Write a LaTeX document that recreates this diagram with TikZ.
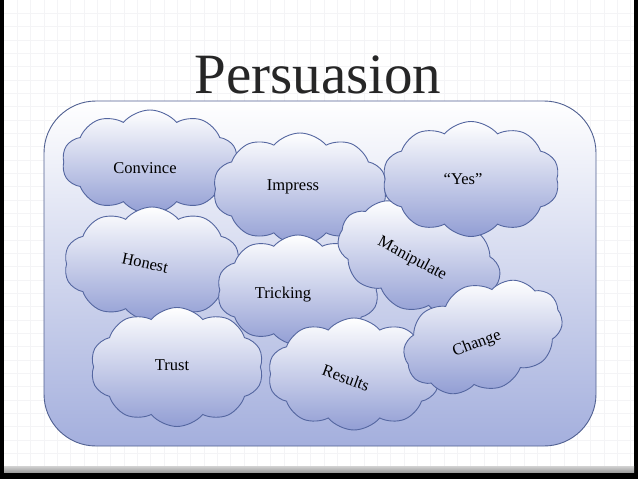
\documentclass[tikz,border=0pt]{standalone}
\usepackage{fontspec}
\setmainfont{Liberation Serif}
\usetikzlibrary{shapes.symbols}
\definecolor{cloudline}{RGB}{84,102,160}
\definecolor{cloudblue}{RGB}{146,158,212}
\definecolor{panelblue}{RGB}{164,175,221}
\definecolor{panelline}{RGB}{80,96,145}
\definecolor{titlegray}{RGB}{38,38,38}
\definecolor{gridgray}{RGB}{244,244,246}
\begin{document}
\begin{tikzpicture}[x=1pt,y=-1pt,
  puff/.style={cloud, cloud puffs=10, cloud puff arc=100, cloud ignores aspect,
    draw=cloudline, line width=0.9pt, top color=white, bottom color=cloudblue, inner sep=0pt},
  word/.style={font=\fontsize{16.5}{18}\selectfont, text=black, inner sep=1pt}]
\useasboundingbox (0,0) rectangle (638,479);
% slide
\fill[black] (0,0) rectangle (638,479);
\fill[white] (4,0) rectangle (634,466);
\shade[top color=gray!35, bottom color=gray!75] (4,466) rectangle (634,472);
\foreach \i in {1,...,47} \draw[gridgray, line width=0.5pt] ({4+\i*13.33},0) -- ({4+\i*13.33},466);
\foreach \j in {1,...,34} \draw[gridgray, line width=0.5pt] (4,{\j*13.33}) -- (634,{\j*13.33});
% title
\node[font=\fontsize{57}{60}\selectfont, text=titlegray, anchor=base, inner sep=0pt] (title) at (318,93) {Persuasion};
% panel
\draw[panelline, line width=0.9pt, rounded corners=52pt, top color=white, bottom color=panelblue]
  (44,101) rectangle (596,446);
% clouds
\node[puff, minimum width=176pt, minimum height=104pt] (convince) at (150,162) {};
\node[puff, minimum width=174pt, minimum height=112pt] (impress) at (300,189) {};
\node[puff, minimum width=176pt, minimum height=114pt] (honest) at (152,264) {};
\node[puff, minimum width=162pt, minimum height=110pt] (tricking) at (298,290) {};
\node[puff, minimum width=168pt, minimum height=106pt, rotate=-20] (manip) at (419,258) {};
\node[puff, minimum width=177pt, minimum height=115pt] (yes) at (471,179) {};
\node[puff, minimum width=173pt, minimum height=119pt] (trust) at (177,367) {};
\node[puff, minimum width=172pt, minimum height=112pt] (results) at (354,374) {};
\node[puff, minimum width=164pt, minimum height=106pt, rotate=20] (change) at (483,337) {};
% labels
\node[word] (tconvince) at (145,168) {Convince};
\node[word] (timpress) at (293,187) {Impress};
\node[word] (tyes) at (463,179) {“Yes”};
\node[word, rotate=-12] (thonest) at (145,263) {Honest};
\node[word, rotate=-28] (tmanip) at (412,259) {Manipulate};
\node[word] (ttricking) at (283,295) {Tricking};
\node[word] (ttrust) at (172,365) {Trust};
\node[word, rotate=-20] (tresults) at (346,378) {Results};
\node[word, rotate=21] (tchange) at (477,344) {Change};
\end{tikzpicture}
\end{document}
